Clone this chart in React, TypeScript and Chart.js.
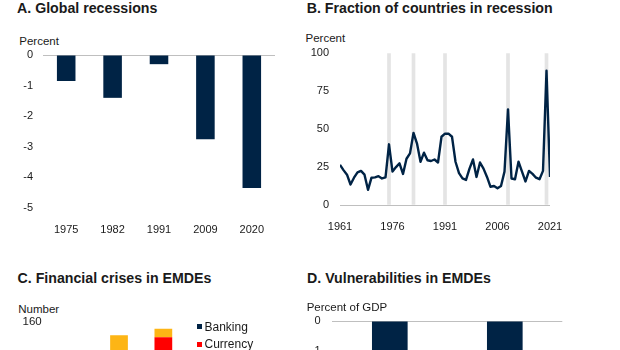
import React, { useEffect, useRef } from "react";
import { Chart, registerables } from "chart.js";

Chart.register(...registerables);

const FONT = "'Liberation Sans', Arial, Helvetica, sans-serif";
Chart.defaults.font.family = FONT;
Chart.defaults.font.size = 11;
Chart.defaults.color = "#1a1a1a";

const NAVY = "#002345";
const RED = "#FF0000";
const ORANGE = "#FDB515";
const ZERO_LINE = "#BFBFBF";
const BAND = "#E4E4E4";

// ---------- Panel A: Global recessions ----------
const recessionLabels = ["1975", "1982", "1991", "2009", "2020"];
const recessionGrowth = [-0.85, -1.4, -0.3, -2.75, -4.35];

// ---------- Panel B: Fraction of countries in recession ----------
const fractionYears = [
  1961, 1962, 1963, 1964, 1965, 1966, 1967, 1968, 1969, 1970,
  1971, 1972, 1973, 1974, 1975, 1976, 1977, 1978, 1979, 1980,
  1981, 1982, 1983, 1984, 1985, 1986, 1987, 1988, 1989, 1990,
  1991, 1992, 1993, 1994, 1995, 1996, 1997, 1998, 1999, 2000,
  2001, 2002, 2003, 2004, 2005, 2006, 2007, 2008, 2009, 2010,
  2011, 2012, 2013, 2014, 2015, 2016, 2017, 2018, 2019, 2020,
  2021,
];
const fractionValues = [
  26.5, 23, 20, 13.5, 18, 21.5, 22.5, 20, 10, 18,
  18.2, 19, 17.5, 18.2, 40, 22, 25, 27.5, 20.5, 30.5,
  34, 47.5, 40.5, 28.5, 34.5, 29.5, 29, 30, 28, 45,
  47, 47, 45, 28.5, 21, 17.5, 16.5, 24, 30, 18.5,
  28, 24, 18.5, 12, 12.5, 11, 12.5, 22, 63, 17.5,
  17, 28.5, 22, 15.5, 22.5, 20.5, 18, 17, 22.5, 88.5,
  18.5,
];
const globalRecessionYears = [1975, 1982, 1991, 2009, 2020];
const fractionTickYears = [1961, 1976, 1991, 2006, 2021];

// ---------- Panel C: Financial crises in EMDEs ----------
const crisisDecades = ["1970s", "1980s", "1990s", "2000s", "2010s"];
const bankingCrises = [10, 35, 45, 15, 12];
const currencyCrises = [30, 60, 99, 45, 40];
const debtCrises = [15, 51, 9, 20, 18];
const crisisLegend = ["Banking", "Currency", "Debt"];

// ---------- Panel D: Vulnerabilities in EMDEs ----------
const vulnerabilityLabels = ["Fiscal balance", "Current account balance"];
const vulnerabilityValues = [-3.6, -4.4];

const zeroOnly = (ctx: any) =>
  ctx.tick && ctx.tick.value === 0 ? ZERO_LINE : "rgba(0,0,0,0)";

const noPlugins = { legend: { display: false }, tooltip: { enabled: false } };

type BoxProps = { left: number; top: number; width: number; height: number; make: () => any };

function ChartBox({ left, top, width, height, make }: BoxProps) {
  const ref = useRef<HTMLCanvasElement>(null);
  useEffect(() => {
    const chart = new Chart(ref.current as HTMLCanvasElement, make());
    return () => chart.destroy();
  }, []);
  return (
    <div style={{ position: "absolute", left, top, width, height }}>
      <canvas ref={ref} width={width} height={height} style={{ display: "block", width, height }} />
    </div>
  );
}

function Text({ left, top, size, bold, children }: any) {
  return (
    <div
      style={{
        position: "absolute",
        left,
        top,
        fontSize: size,
        lineHeight: `${bold ? 14 : 12}px`,
        fontWeight: bold ? 700 : 400,
        whiteSpace: "nowrap",
      }}
    >
      {children}
    </div>
  );
}

const makeA = () => ({
  type: "bar",
  data: {
    labels: recessionLabels,
    datasets: [
      {
        data: recessionGrowth,
        backgroundColor: NAVY,
        barPercentage: 0.4,
        categoryPercentage: 1,
      },
    ],
  },
  options: {
    animation: false,
    responsive: false,
    layout: { padding: { top: 17, right: 25, bottom: 0, left: 0 } },
    plugins: noPlugins,
    scales: {
      x: {
        grid: { display: false },
        border: { display: false },
        ticks: { padding: 7, maxRotation: 0, font: { size: 11 } },
        afterFit: (s: any) => {
          s.height = 32;
        },
      },
      y: {
        min: -5,
        max: 0,
        ticks: { stepSize: 1, padding: 10, font: { size: 11 } },
        grid: { color: zeroOnly, drawTicks: false },
        border: { display: false },
        afterFit: (s: any) => {
          s.width = 43;
        },
      },
    },
  },
});

const makeB = () => ({
  type: "line",
  data: {
    datasets: [
      {
        type: "line",
        data: fractionYears.map((yr, i) => ({ x: yr, y: fractionValues[i] })),
        borderColor: NAVY,
        borderWidth: 2.4,
        pointRadius: 0,
        tension: 0,
        borderJoinStyle: "round",
      },
      {
        type: "bar",
        data: globalRecessionYears.map((yr) => ({ x: yr, y: 100 })),
        backgroundColor: BAND,
        barThickness: 3,
      },
    ],
  },
  options: {
    animation: false,
    responsive: false,
    layout: { padding: { top: 18.3, right: 70, bottom: 0, left: 0 } },
    plugins: noPlugins,
    scales: {
      x: {
        type: "linear",
        min: 1961,
        max: 2021,
        offset: false,
        grid: { display: false },
        border: { display: false },
        afterBuildTicks: (s: any) => {
          s.ticks = fractionTickYears.map((value) => ({ value }));
        },
        ticks: {
          padding: 7,
          maxRotation: 0,
          autoSkip: false,
          font: { size: 11 },
          callback: (v: any) => String(v),
        },
        afterFit: (s: any) => {
          s.height = 35;
        },
      },
      y: {
        min: 0,
        max: 100,
        ticks: { stepSize: 25, padding: 11, font: { size: 11 } },
        grid: { color: zeroOnly, drawTicks: false },
        border: { display: false },
        afterFit: (s: any) => {
          s.width = 40;
        },
      },
    },
  },
});

const makeC = () => ({
  type: "bar",
  data: {
    labels: crisisDecades,
    datasets: [
      { label: crisisLegend[0], data: bankingCrises, backgroundColor: NAVY },
      { label: crisisLegend[1], data: currencyCrises, backgroundColor: RED },
      { label: crisisLegend[2], data: debtCrises, backgroundColor: ORANGE },
    ],
  },
  options: {
    animation: false,
    responsive: false,
    datasets: { bar: { barPercentage: 0.4, categoryPercentage: 1 } },
    layout: { padding: { top: 18, right: 25.8, bottom: 0, left: 0 } },
    plugins: noPlugins,
    scales: {
      x: {
        stacked: true,
        grid: { display: false },
        border: { display: false },
        ticks: { padding: 7, maxRotation: 0, font: { size: 11 } },
        afterFit: (s: any) => {
          s.height = 36;
        },
      },
      y: {
        stacked: true,
        min: 0,
        max: 160,
        ticks: { stepSize: 40, padding: 10.8, font: { size: 11.5 } },
        grid: { color: zeroOnly, drawTicks: false },
        border: { display: false },
        afterFit: (s: any) => {
          s.width = 52.5;
        },
      },
    },
  },
});

const makeD = () => ({
  type: "bar",
  data: {
    labels: vulnerabilityLabels,
    datasets: [
      {
        data: vulnerabilityValues,
        backgroundColor: NAVY,
        barPercentage: 0.31,
        categoryPercentage: 1,
      },
    ],
  },
  options: {
    animation: false,
    responsive: false,
    layout: { padding: { top: 19, right: 57.7, bottom: 0, left: 0 } },
    plugins: noPlugins,
    scales: {
      x: {
        grid: { display: false },
        border: { display: false },
        ticks: { padding: 7, maxRotation: 0, font: { size: 11 } },
        afterFit: (s: any) => {
          s.height = 46;
        },
      },
      y: {
        min: -5,
        max: 0,
        ticks: { stepSize: 1, padding: 11.6, font: { size: 11 } },
        grid: { color: zeroOnly, drawTicks: false },
        border: { display: false },
        afterFit: (s: any) => {
          s.width = 32.3;
        },
      },
    },
  },
});

const legendColors = [NAVY, RED, ORANGE];

export default function App() {
  return (
    <div
      style={{
        position: "fixed",
        left: 0,
        top: 0,
        width: 620,
        height: 350,
        overflow: "hidden",
        background: "#fff",
        fontFamily: FONT,
        color: "#1a1a1a",
      }}
    >
      <Text left={17} top={1} size={14.2} bold>A. Global recessions</Text>
      <Text left={19.3} top={34.5} size={11.5}>Percent</Text>
      <ChartBox left={0} top={38} width={300} height={202} make={makeA} />

      <Text left={306.7} top={1} size={14.2} bold>B. Fraction of countries in recession</Text>
      <Text left={305.5} top={32.3} size={11.5}>Percent</Text>
      <ChartBox left={300} top={35} width={320} height={205} make={makeB} />

      <Text left={17.5} top={270.5} size={14.2} bold>C. Financial crises in EMDEs</Text>
      <Text left={18.3} top={302.8} size={11.5}>Number</Text>
      <ChartBox left={0} top={304} width={300} height={206} make={makeC} />
      {crisisLegend.map((name, i) => (
        <div
          key={name}
          style={{
            position: "absolute",
            left: 196.5,
            top: 319.8 + i * 17.6,
            height: 14,
            display: "flex",
            alignItems: "center",
            fontSize: 12,
            lineHeight: "14px",
            whiteSpace: "nowrap",
          }}
        >
          <span style={{ display: "inline-block", width: 5, height: 5, background: legendColors[i], marginRight: 3 }} />
          {name}
        </div>
      ))}

      <Text left={307} top={270.5} size={14.2} bold>D. Vulnerabilities in EMDEs</Text>
      <Text left={306.7} top={301.2} size={11.5}>Percent of GDP</Text>
      <ChartBox left={300} top={302} width={320} height={217} make={makeD} />
    </div>
  );
}
